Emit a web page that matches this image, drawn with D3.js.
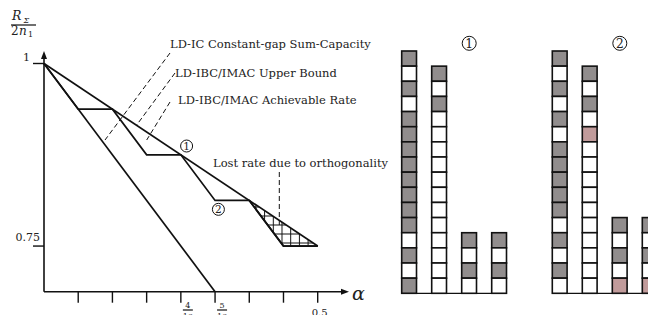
<!DOCTYPE html>
<html>
<head>
<meta charset="utf-8">
<script src="https://cdn.jsdelivr.net/npm/d3@7"></script>
<style>
  body { margin: 0; background: #fff; }
  text { font-family: "DejaVu Serif", "Liberation Serif", serif; fill: #222; }
</style>
</head>
<body>
<div id="chart"></div>
<script>
// alpha ticks, 1/16 .. 8/16
var alphaTicks = [1, 2, 3, 4, 5, 6, 7, 8].map(function(d) { return d / 16; });
var alphaLabels = [{a: 4 / 16, num: '4', den: '16'}, {a: 5 / 16, num: '5', den: '16'}];
var rateTicks = [1, 0.75];

// the three curves (alpha, R / 2n1)
var icCapacity = [[0, 1], [0.5, 0.75]];
var ibcUpper = [[0, 1], [5 / 16, 11 / 16]];
var ibcAchievable = [[0, 1], [1 / 16, 15 / 16], [2 / 16, 15 / 16], [3 / 16, 14 / 16], [4 / 16, 14 / 16],
                     [5 / 16, 13 / 16], [6 / 16, 13 / 16], [7 / 16, 12 / 16], [8 / 16, 12 / 16]];
var lostRate = [[6 / 16, 13 / 16], [7 / 16, 12 / 16], [8 / 16, 12 / 16]];
var circleMarks = [{a: 0.2605, r: 0.887, t: '1'}, {a: 0.3186, r: 0.8003, t: '2'}];

// level stacks, top to bottom: g = grey, w = white, p = pink
var stacks1 = ['gwgwggggggggwgwg', 'gwgwwwwwwwwwwww', 'gwgw', 'gwgw'];
var stacks2 = ['gwgwgwgggggwgwgw', 'gwgwpwwwwwwwwww', 'gwgwp', 'gwgwp'];
var cellColor = {g: '#918d8d', w: '#ffffff', p: '#c19b9b'};

var svg = d3.select('#chart').append('svg')
    .attr('width', 648)
    .attr('height', 315);

var x = d3.scaleLinear().domain([0, 0.5]).range([44, 317.7]);
var y = d3.scaleLinear().domain([11 / 16, 1]).range([291.7, 63.5]);
var line = d3.line().x(function(d) { return x(d[0]); }).y(function(d) { return y(d[1]); });

// hatch for lost rate
var pat = svg.append('defs').append('pattern')
    .attr('id', 'hatch')
    .attr('patternUnits', 'userSpaceOnUse')
    .attr('x', 272.8)
    .attr('y', 215.5)
    .attr('width', 8.7)
    .attr('height', 9);
pat.append('path')
    .attr('d', 'M0,0.5 H8.7 M0.5,0 V9')
    .attr('stroke', '#111')
    .attr('stroke-width', 1);

var chart = svg.append('g');

chart.append('path')
    .datum(lostRate)
    .attr('d', function(d) { return line(d) + 'Z'; })
    .attr('fill', 'url(#hatch)');

// axes
chart.append('line')
    .attr('x1', x(0)).attr('y1', y(11 / 16))
    .attr('x2', 343).attr('y2', y(11 / 16))
    .attr('stroke', '#111').attr('stroke-width', 1.6);
chart.append('path')
    .attr('d', 'M349,' + y(11 / 16) + ' l-8,-3 v6 Z')
    .attr('fill', '#111');
chart.append('line')
    .attr('x1', x(0)).attr('y1', y(11 / 16))
    .attr('x2', x(0)).attr('y2', 57)
    .attr('stroke', '#111').attr('stroke-width', 1.6);
chart.append('path')
    .attr('d', 'M' + x(0) + ',51 l-3,8 h6 Z')
    .attr('fill', '#111');

chart.selectAll('.xtick')
    .data(alphaTicks)
    .enter().append('line')
    .attr('class', 'xtick')
    .attr('x1', function(d) { return x(d); })
    .attr('x2', function(d) { return x(d); })
    .attr('y1', y(11 / 16))
    .attr('y2', y(11 / 16) + 11)
    .attr('stroke', '#111').attr('stroke-width', 1.4);

chart.selectAll('.ytick')
    .data(rateTicks)
    .enter().append('line')
    .attr('class', 'ytick')
    .attr('x1', x(0) - 11)
    .attr('x2', x(0))
    .attr('y1', function(d) { return y(d); })
    .attr('y2', function(d) { return y(d); })
    .attr('stroke', '#111').attr('stroke-width', 1.4);

chart.append('text').attr('x', 30).attr('y', 61).attr('text-anchor', 'end')
    .attr('font-size', '11px').text('1');
chart.append('text').attr('x', 40).attr('y', 241).attr('text-anchor', 'end')
    .attr('font-size', '11px').text('0.75');

// fraction tick labels (cut by the bottom edge, as in the source)
var fr = chart.selectAll('.frac')
    .data(alphaLabels)
    .enter().append('g')
    .attr('class', 'frac')
    .attr('transform', function(d) { return 'translate(' + (x(d.a) + 7) + ',0)'; });
fr.append('text').attr('y', 308).attr('text-anchor', 'middle').attr('font-size', '8px')
    .text(function(d) { return d.num; });
fr.append('line').attr('x1', -5).attr('x2', 5).attr('y1', 310).attr('y2', 310)
    .attr('stroke', '#111').attr('stroke-width', 1.2);
fr.append('text').attr('y', 319).attr('text-anchor', 'middle').attr('font-size', '8px')
    .text(function(d) { return d.den; });
chart.append('text').attr('x', x(0.5) + 2).attr('y', 315.5).attr('text-anchor', 'middle')
    .attr('font-size', '10px').text('0.5');

chart.append('text').attr('x', 352).attr('y', 300)
    .attr('font-size', '19px').attr('font-style', 'italic').text('α');

// y label R_Σ / 2n_1
var yl = chart.append('g');
yl.append('text').attr('x', 12).attr('y', 20).attr('font-size', '12.5px').attr('font-style', 'italic').text('R');
yl.append('text').attr('x', 23.5).attr('y', 23).attr('font-size', '8px').attr('font-style', 'italic').text('Σ');
yl.append('line').attr('x1', 11).attr('x2', 36).attr('y1', 25).attr('y2', 25)
    .attr('stroke', '#111').attr('stroke-width', 1.2);
yl.append('text').attr('x', 11).attr('y', 34.5).attr('font-size', '12px').text('2');
yl.append('text').attr('x', 19).attr('y', 34.5).attr('font-size', '12px').attr('font-style', 'italic').text('n');
yl.append('text').attr('x', 28).attr('y', 36.5).attr('font-size', '8px').text('1');

// curves
[icCapacity, ibcUpper, ibcAchievable, lostRate].forEach(function(s) {
    chart.append('path')
        .datum(s)
        .attr('d', line)
        .attr('fill', 'none')
        .attr('stroke', '#111')
        .attr('stroke-width', 1.7)
        .attr('stroke-linejoin', 'miter');
});

// pointers and their labels
var callouts = [
    {x1: 170, y1: 53, x2: 105, y2: 140, tx: 170, ty: 48, t: 'LD-IC Constant-gap Sum-Capacity'},
    {x1: 175, y1: 73, x2: 136.7, y2: 125, tx: 175, ty: 77, t: 'LD-IBC/IMAC Upper Bound'},
    {x1: 170, y1: 102, x2: 146.7, y2: 140, tx: 178, ty: 104, t: 'LD-IBC/IMAC Achievable Rate'},
    {x1: 279.3, y1: 172, x2: 279.3, y2: 228, tx: 213, ty: 167, t: 'Lost rate due to orthogonality'}
];
callouts.forEach(function(c) {
    chart.append('line')
        .attr('x1', c.x1).attr('y1', c.y1).attr('x2', c.x2).attr('y2', c.y2)
        .attr('stroke', '#111').attr('stroke-width', 1)
        .attr('stroke-dasharray', '5,3');
    chart.append('text').attr('x', c.tx).attr('y', c.ty)
        .attr('font-size', '11.5px').text(c.t);
});

function circled(g, cx, cy, r, t) {
    g.append('circle').attr('cx', cx).attr('cy', cy).attr('r', r)
        .attr('fill', '#fff').attr('stroke', '#111').attr('stroke-width', 1);
    g.append('text').attr('x', cx).attr('y', cy + r * 0.6).attr('text-anchor', 'middle')
        .attr('font-size', (r * 1.75) + 'px').text(t);
}
circleMarks.forEach(function(m) {
    circled(chart, x(m.a), y(m.r), 6, m.t);
});

// stacked levels
var cy = d3.scaleLinear().domain([0, 16]).range([293.3, 51]);
function drawStacks(data, x0, label) {
    var cx = d3.scaleLinear().domain([0, 1]).range([x0, x0 + 30]);
    var g = svg.append('g');
    g.append('line')
        .attr('x1', cx(0)).attr('x2', cx(3) + 15)
        .attr('y1', cy(0)).attr('y2', cy(0))
        .attr('stroke', '#111').attr('stroke-width', 1.2);
    data.forEach(function(col, i) {
        var cells = col.split('');
        g.selectAll('.c' + i)
            .data(cells)
            .enter().append('rect')
            .attr('x', cx(i))
            .attr('y', function(d, j) { return cy(cells.length - j); })
            .attr('width', 14.8)
            .attr('height', cy(0) - cy(1))
            .attr('fill', function(d) { return cellColor[d]; })
            .attr('stroke', '#111')
            .attr('stroke-width', 1.6);
    });
    circled(g, cx(2.25), 43.3, 7, label);
}
drawStacks(stacks1, 401.7, '1');
drawStacks(stacks2, 552.3, '2');
</script>
</body>
</html>
